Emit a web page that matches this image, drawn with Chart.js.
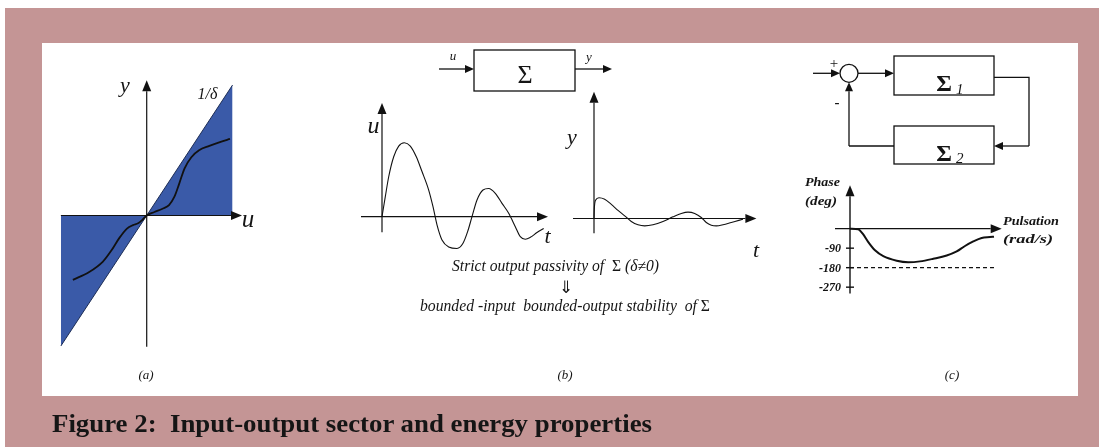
<!DOCTYPE html>
<html>
<head>
<meta charset="utf-8">
<script src="https://cdn.jsdelivr.net/npm/chart.js@4.4.1/dist/chart.umd.min.js"></script>
<style>
html,body{margin:0;padding:0;background:#fff;}
#page{position:relative;width:1099px;height:447px;overflow:hidden;}
#frame{position:absolute;left:5px;top:8px;width:1094px;height:439px;background:#c49595;}
#panel{position:absolute;left:42px;top:43px;width:1036px;height:353px;background:#fff;}
canvas{position:absolute;}
#art{position:absolute;left:0;top:0;}
#art text{font-family:"Liberation Serif","Times New Roman",serif;fill:#151515;white-space:pre;}
</style>
</head>
<body>
<div id="page">
  <div id="frame"></div>
  <div id="panel"></div>
  <canvas id="sector"></canvas>
  <canvas id="inputSig"></canvas>
  <canvas id="outputSig"></canvas>
  <canvas id="phasePlot"></canvas>
  <svg id="art" width="1099" height="447"></svg>
</div>
<script>
// (a) sector bound 1/delta and the static characteristic inside it
const sectorU = [-1, 0, 1];
const sectorY = [-1.5, 0, 1.5];
const curveU = [-0.86,-0.67,-0.51,-0.41,-0.32,-0.23,-0.16,-0.10,-0.05,0,0.09,0.19,0.26,0.32,0.38,0.44,0.52,0.61,0.73,0.87,0.97];
const curveY = [-0.74,-0.65,-0.53,-0.40,-0.26,-0.15,-0.11,-0.09,-0.05,0,0.04,0.08,0.12,0.21,0.37,0.54,0.67,0.75,0.80,0.85,0.88];

// (b) input u(t) and output y(t)
const inT = [0,0.33,0.67,1.17,1.67,2.23,2.83,3.43,4.0,4.67,5.1,5.5,6.0,6.67,7.5,8.1,8.57,9.0,9.5,10.1,10.67,11.33,12.0,12.67,13.33,13.83,14.33,14.83,15.5,16.17];
const inU = [0,0.27,0.54,0.81,0.955,1.0,0.955,0.81,0.61,0.36,0.135,-0.11,-0.315,-0.41,-0.43,-0.36,-0.2,0,0.225,0.36,0.38,0.315,0.18,0.045,-0.135,-0.27,-0.305,-0.28,-0.215,-0.16];
const outT = [0,0.03,0.17,0.5,1.07,1.73,2.4,3.07,3.73,4.4,5.07,5.9,6.9,7.9,8.73,9.4,10.07,10.73,11.23,11.73,12.23,12.9,13.73,14.57,14.9];
const outY = [0,0.127,0.25,0.28,0.26,0.19,0.11,0.036,-0.04,-0.085,-0.10,-0.085,-0.04,0.023,0.068,0.086,0.068,0.014,-0.054,-0.09,-0.10,-0.085,-0.054,-0.022,-0.01];

// (c) phase of the loop versus pulsation
const pulsation = [0,0.83,1.27,1.83,2.5,3.33,4.67,5.83,7.0,8.33,9.67,10.67,11.5,12.33,13.17,14.0,14.4];
const phase = [0,-3,-23,-62,-100,-127,-148,-155,-151,-139,-124,-105,-80,-59,-43,-39,-37];
const phaseTicks = [-90, -180, -270];
const limitW = [0, 14.5];
const limitPhase = [-180, -180];

const SERIF = '"Liberation Serif","Times New Roman",serif';
const pts = (xs, ys) => xs.map((x, i) => ({x: x, y: ys[i]}));

function drawArrow(ctx, x1, y1, x2, y2, len, half) {
  const a = Math.atan2(y2 - y1, x2 - x1);
  const bx = x2 - len * Math.cos(a), by = y2 - len * Math.sin(a);
  ctx.beginPath(); ctx.moveTo(x1, y1); ctx.lineTo(bx, by); ctx.stroke();
  ctx.beginPath(); ctx.moveTo(x2, y2);
  ctx.lineTo(bx + half * Math.sin(a), by - half * Math.cos(a));
  ctx.lineTo(bx - half * Math.sin(a), by + half * Math.cos(a));
  ctx.closePath(); ctx.fill();
}

function axesPlugin(a) {
  return {
    id: 'arrowAxes',
    afterDatasetsDraw(chart) {
      const {ctx, scales: {x, y}} = chart;
      const x0 = x.getPixelForValue(0), y0 = y.getPixelForValue(0);
      ctx.save();
      ctx.strokeStyle = '#111'; ctx.fillStyle = '#111'; ctx.lineWidth = a.width || 1.2;
      drawArrow(ctx, x.getPixelForValue(a.x[0]), y0, x.getPixelForValue(a.x[1]), y0, 11, 4.5);
      drawArrow(ctx, x0, y.getPixelForValue(a.y[0]), x0, y.getPixelForValue(a.y[1]), 11, 4.5);
      if (a.ticks) {
        ctx.font = 'italic bold 12px ' + SERIF;
        ctx.textAlign = 'right'; ctx.textBaseline = 'middle';
        a.ticks.forEach(v => {
          const py = y.getPixelForValue(v);
          ctx.beginPath(); ctx.moveTo(x0 - 4, py); ctx.lineTo(x0 + 4, py); ctx.stroke();
          ctx.fillText(String(v), x0 - 9, py + 1);
        });
      }
      ctx.restore();
    }
  };
}

function makePlot(id, m, xr, yr, datasets, axes) {
  const c = document.getElementById(id);
  c.width = Math.round((xr[1] - xr[0]) * m.sx);
  c.height = Math.round((yr[1] - yr[0]) * m.sy);
  c.style.left = (m.ox + xr[0] * m.sx) + 'px';
  c.style.top = (m.oy - yr[1] * m.sy) + 'px';
  return new Chart(c, {
    type: 'line',
    data: {datasets: datasets},
    options: {
      responsive: false,
      animation: false,
      devicePixelRatio: 1,
      layout: {padding: 0},
      elements: {point: {radius: 0}, line: {cubicInterpolationMode: 'monotone'}},
      scales: {
        x: {type: 'linear', display: false, min: xr[0], max: xr[1]},
        y: {type: 'linear', display: false, min: yr[0], max: yr[1]}
      },
      plugins: {legend: {display: false}, tooltip: {enabled: false}}
    },
    plugins: [axesPlugin(axes)]
  });
}

// first dataset is drawn on top
makePlot('sector', {ox: 147.3, oy: 215.3, sx: 86, sy: 87}, [-1.15, 1.25], [-1.65, 1.65], [
  {data: pts(curveU, curveY), fill: false, borderColor: '#111', borderWidth: 1.8},
  {data: pts(sectorU, sectorY), fill: 'origin', backgroundColor: '#3a5aa8', borderColor: '#1d2d55', borderWidth: 1, tension: 0}
], {x: [-1, 1.11], y: [-1.51, 1.555]});

makePlot('inputSig', {ox: 381.7, oy: 216.7, sx: 10, sy: 74}, [-2.5, 17.5], [-0.6, 1.7], [
  {data: pts(inT, inU), fill: false, borderColor: '#111', borderWidth: 1.1}
], {x: [-2.1, 16.6], y: [-0.21, 1.537]});

makePlot('outputSig', {ox: 594.3, oy: 217.7, sx: 10, sy: 74}, [-2.5, 17], [-0.6, 1.8], [
  {data: pts(outT, outY), fill: false, borderColor: '#111', borderWidth: 1.1}
], {x: [-2.1, 16.24], y: [-0.2, 1.71]});

makePlot('phasePlot', {ox: 850, oy: 228.3, sx: 10, sy: 0.216}, [-4.5, 16], [-320, 220], [
  {data: pts(pulsation, phase), fill: false, borderColor: '#111', borderWidth: 2},
  {data: pts(limitW, limitPhase), fill: false, borderColor: '#111', borderWidth: 1.1, borderDash: [4, 3], tension: 0}
], {x: [-1.5, 15.17], y: [-299.5, 200], ticks: phaseTicks, width: 1.4});

// block diagrams and labels
function arrowSvg(x1, y1, x2, y2) {
  const a = Math.atan2(y2 - y1, x2 - x1), len = 9, half = 4;
  const bx = x2 - len * Math.cos(a), by = y2 - len * Math.sin(a);
  return `<line x1="${x1}" y1="${y1}" x2="${bx}" y2="${by}" stroke="#111" stroke-width="1.3"/>` +
    `<polygon points="${x2},${y2} ${bx + half * Math.sin(a)},${by - half * Math.cos(a)} ${bx - half * Math.sin(a)},${by + half * Math.cos(a)}" fill="#111"/>`;
}
function txt(x, y, s, size, style, extra) {
  return `<text x="${x}" y="${y}" font-size="${size}" ${style || ''} ${extra || ''}>${s}</text>`;
}
const I = 'font-style="italic"', IB = 'font-style="italic" font-weight="bold"', M = 'text-anchor="middle"';
let svg = '';
// (a)
svg += txt(125, 92, 'y', 22, I, M) + txt(248, 226.5, 'u', 25, I, M) + txt(207.5, 99, '1/δ', 16, I, M) + txt(146, 379, '(a)', 13, I, M);
// (b)
svg += `<rect x="474" y="50" width="101" height="41" fill="none" stroke="#111" stroke-width="1.3"/>`;
svg += arrowSvg(439, 69, 474, 69) + arrowSvg(575, 69, 612, 69);
svg += txt(525, 83, 'Σ', 26, '', M) + txt(453, 60, 'u', 13, I, M) + txt(589, 61, 'y', 13, I, M);
svg += txt(373.5, 133, 'u', 24, I, M) + txt(547.5, 243, 't', 22, I, M);
svg += txt(572, 143.5, 'y', 22, I, M) + txt(756, 256.5, 't', 22, I, M);
svg += `<text x="452" y="271" font-size="16" font-style="italic" textLength="207" lengthAdjust="spacingAndGlyphs">Strict output passivity of  <tspan font-style="normal">Σ</tspan> (δ≠0)</text>`;
svg += txt(566, 293, '⇓', 17, '', M);
svg += `<text x="420" y="311" font-size="16" font-style="italic" textLength="290" lengthAdjust="spacingAndGlyphs">bounded -input  bounded-output stability  of <tspan font-style="normal">Σ</tspan></text>`;
svg += txt(565, 379, '(b)', 13, I, M);
// (c)
svg += `<circle cx="849" cy="73.3" r="9" fill="none" stroke="#111" stroke-width="1.3"/>`;
svg += arrowSvg(813, 73.3, 840, 73.3) + arrowSvg(858, 73.3, 894, 73.3);
svg += `<rect x="894" y="56" width="100" height="39" fill="none" stroke="#111" stroke-width="1.3"/>`;
svg += `<rect x="894" y="126" width="100" height="38" fill="none" stroke="#111" stroke-width="1.3"/>`;
svg += `<polyline points="994,77.3 1029,77.3 1029,146" fill="none" stroke="#111" stroke-width="1.3"/>` + arrowSvg(1029, 146, 994, 146);
svg += `<polyline points="894,146 849,146" fill="none" stroke="#111" stroke-width="1.3"/>` + arrowSvg(849, 146, 849, 82.3);
svg += txt(834, 67.5, '+', 15, '', M) + txt(837, 107, '-', 15, 'font-weight="bold"', M);
svg += txt(944, 90.5, 'Σ', 24, 'font-weight="bold"', M) + txt(956, 94, '1', 15, I);
svg += txt(944, 160.5, 'Σ', 24, 'font-weight="bold"', M) + txt(956, 163, '2', 15, I);
svg += `<text x="805" y="185.5" font-size="13" ${IB} textLength="35" lengthAdjust="spacingAndGlyphs">Phase</text>`;
svg += `<text x="805" y="204.5" font-size="13" ${IB} textLength="32" lengthAdjust="spacingAndGlyphs">(deg)</text>`;
svg += `<text x="1003" y="224.5" font-size="13" ${IB} textLength="56" lengthAdjust="spacingAndGlyphs">Pulsation</text>`;
svg += `<text x="1003" y="243" font-size="13" ${IB} textLength="50" lengthAdjust="spacingAndGlyphs">(rad/s)</text>`;
svg += txt(952, 379, '(c)', 13, I, M);
// caption
svg += `<text x="52" y="432" font-size="26" font-weight="bold" textLength="600" lengthAdjust="spacingAndGlyphs">Figure 2:  Input-output sector and energy properties</text>`;
document.getElementById('art').innerHTML = svg;
</script>
</body>
</html>
